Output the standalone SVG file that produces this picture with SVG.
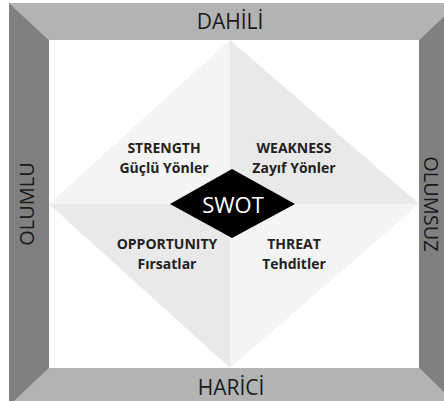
<svg xmlns="http://www.w3.org/2000/svg" width="444" height="401" viewBox="0 0 444 401">
  <style>
    .light { fill: #b3b3b3; }
    .dark { fill: #808080; }
    .side { font-family: "Open Sans", "Liberation Sans", sans-serif; font-size: 20px; fill: #1a1a1a; text-anchor: middle; }
    .tb { font-family: "Open Sans", "Liberation Sans", sans-serif; font-size: 21px; fill: #1a1a1a; text-anchor: middle; }
    .q { font-family: "Open Sans", "Liberation Sans", sans-serif; font-size: 14px; font-weight: bold; fill: #222; text-anchor: middle; }
    .swot { font-family: "Open Sans", "Liberation Sans", sans-serif; font-size: 22px; fill: #ffffff; text-anchor: middle; }
  </style>
  <rect x="0" y="0" width="444" height="401" fill="#ffffff"/>
  <g id="frame">
    <rect x="49" y="40" width="370" height="328" fill="#ffffff"/>
    <polygon id="bar-top" class="light" points="9,3 458,3 419,40 49,40"/>
    <polygon id="bar-bottom" class="light" points="49,368 419,368 458,406 9,406"/>
    <polygon id="bar-left" class="dark" points="9,3 49,40 49,368 9,406"/>
    <polygon id="bar-right" class="dark" points="458,3 419,40 419,368 458,406"/>
    <text class="tb" x="230" y="29">DAHİLİ</text>
    <text class="tb" x="231" y="395">HARİCİ</text>
    <text class="side" transform="translate(34,204) rotate(-90)">OLUMLU</text>
    <text class="side" transform="translate(424,204) rotate(90)">OLUMSUZ</text>
  </g>
  <g id="strength">
    <polygon points="49,204 230,40 230,204" fill="#f4f4f4"/>
    <text class="q" x="164" y="153">STRENGTH</text>
    <text class="q" x="164" y="173">Güçlü Yönler</text>
  </g>
  <g id="weakness">
    <polygon points="230,40 419,204 230,204" fill="#e9e9e9"/>
    <text class="q" x="294" y="153">WEAKNESS</text>
    <text class="q" x="294" y="173">Zayıf Yönler</text>
  </g>
  <g id="opportunity">
    <polygon points="49,204 230,204 230,368" fill="#e9e9e9"/>
    <text class="q" x="167" y="249">OPPORTUNITY</text>
    <text class="q" x="167" y="269">Fırsatlar</text>
  </g>
  <g id="threat">
    <polygon points="230,204 419,204 230,368" fill="#f4f4f4"/>
    <text class="q" x="294" y="249">THREAT</text>
    <text class="q" x="294" y="269">Tehditler</text>
  </g>
  <g id="swot">
    <polygon points="170,204 232,169 295,204 232,238" fill="#000000"/>
    <text class="swot" x="233" y="213">SWOT</text>
  </g>
</svg>
